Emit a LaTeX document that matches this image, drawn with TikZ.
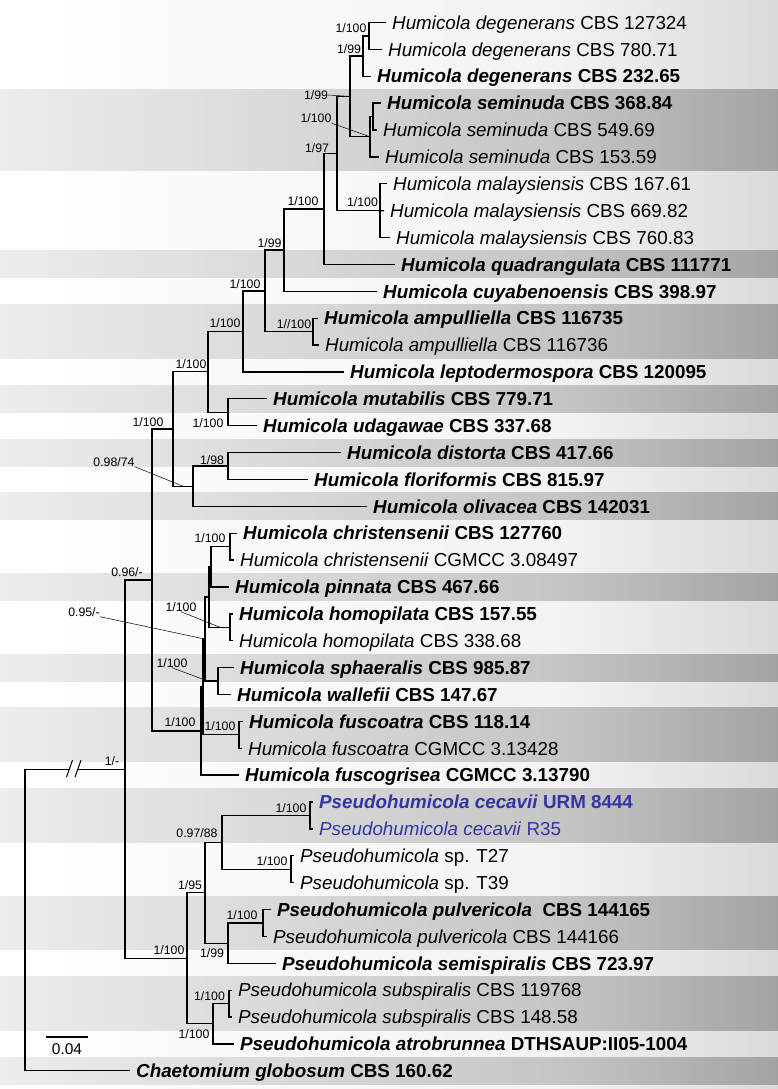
\documentclass[tikz,border=0pt]{standalone}
\usepackage{fontspec}
\setmainfont{Liberation Sans}
\definecolor{bandL}{RGB}{237,237,237}
\definecolor{bandM}{RGB}{197,197,197}
\definecolor{bandR}{RGB}{163,163,163}
\definecolor{paperL}{RGB}{255,255,255}
\definecolor{paperM}{RGB}{243,243,243}
\definecolor{paperR}{RGB}{218,218,218}
\definecolor{cecblue}{RGB}{52,52,168}
\pgfdeclarehorizontalshading{grayband}{100bp}{color(0bp)=(bandL); color(25bp)=(bandL); color(61bp)=(bandM); color(75bp)=(bandR); color(100bp)=(bandR)}
\pgfdeclarehorizontalshading{whiteband}{100bp}{color(0bp)=(paperL); color(25bp)=(paperL); color(61bp)=(paperM); color(75bp)=(paperR); color(100bp)=(paperR)}
\newcommand{\boldtax}[2]{\textbf{\textit{#1} #2}}
\newcommand{\plaintax}[2]{\textit{#1} #2}

\begin{document}
\begin{tikzpicture}[x=1pt,y=-1pt]
\tikzstyle{taxon} = [anchor=west, inner xsep=6pt, inner ysep=0pt, text height=13.4pt, text depth=0pt, font=\fontsize{18.8}{20}\selectfont]
\tikzstyle{support} = [inner sep=0pt, font=\fontsize{12.3}{13}\selectfont]
\tikzstyle{branch} = [line width=1.3pt]
\tikzstyle{leader} = [line width=0.5pt]

\useasboundingbox (0,0) rectangle (778,1089);
\shade[shading=whiteband] (0,0) rectangle (778,1089);
\foreach \a/\b in {4/6,10/10,12/13,15/15,17/17,19/19,22/22,25/25,27/28,30/31,34/35,37/38,40/40}
  \shade[shading=grayband] (0,{9.06+(\a-1)*26.88}) rectangle (778,{35.94+(\b-1)*26.88});

% taxa
\node[taxon] (t1) at (386,22.5) {\plaintax{Humicola degenerans}{CBS 127324}};
\node[taxon] (t2) at (382,49.4) {\plaintax{Humicola degenerans}{CBS 780.71}};
\node[taxon] (t3) at (371,76.3) {\boldtax{Humicola degenerans}{CBS 232.65}};
\node[taxon] (t4) at (381,103.1) {\boldtax{Humicola seminuda}{CBS 368.84}};
\node[taxon] (t5) at (377,130.0) {\plaintax{Humicola seminuda}{CBS 549.69}};
\node[taxon] (t6) at (379,156.9) {\plaintax{Humicola seminuda}{CBS 153.59}};
\node[taxon] (t7) at (387,183.8) {\plaintax{Humicola malaysiensis}{CBS 167.61}};
\node[taxon] (t8) at (384,210.7) {\plaintax{Humicola malaysiensis}{CBS 669.82}};
\node[taxon] (t9) at (390,237.5) {\plaintax{Humicola malaysiensis}{CBS 760.83}};
\node[taxon] (t10) at (395,264.4) {\boldtax{Humicola quadrangulata}{CBS 111771}};
\node[taxon] (t11) at (377,291.3) {\boldtax{Humicola cuyabenoensis}{CBS 398.97}};
\node[taxon] (t12) at (318,318.2) {\boldtax{Humicola ampulliella}{CBS 116735}};
\node[taxon] (t13) at (319,345.1) {\plaintax{Humicola ampulliella}{CBS 116736}};
\node[taxon] (t14) at (344,371.9) {\boldtax{Humicola leptodermospora}{CBS 120095}};
\node[taxon] (t15) at (267,398.8) {\boldtax{Humicola mutabilis}{CBS 779.71}};
\node[taxon] (t16) at (257,425.7) {\boldtax{Humicola udagawae}{CBS 337.68}};
\node[taxon] (t17) at (341,452.6) {\boldtax{Humicola distorta}{CBS 417.66}};
\node[taxon] (t18) at (308,479.5) {\boldtax{Humicola floriformis}{CBS 815.97}};
\node[taxon] (t19) at (367,506.3) {\boldtax{Humicola olivacea}{CBS 142031}};
\node[taxon] (t20) at (237,533.2) {\boldtax{Humicola christensenii}{CBS 127760}};
\node[taxon] (t21) at (234,560.1) {\plaintax{Humicola christensenii}{CGMCC 3.08497}};
\node[taxon] (t22) at (229,587.0) {\boldtax{Humicola pinnata}{CBS 467.66}};
\node[taxon] (t23) at (233,613.9) {\boldtax{Humicola homopilata}{CBS 157.55}};
\node[taxon] (t24) at (233,640.7) {\plaintax{Humicola homopilata}{CBS 338.68}};
\node[taxon] (t25) at (234,667.6) {\boldtax{Humicola sphaeralis}{CBS 985.87}};
\node[taxon] (t26) at (231,694.5) {\boldtax{Humicola wallefii}{CBS 147.67}};
\node[taxon] (t27) at (243,721.4) {\boldtax{Humicola fuscoatra}{CBS 118.14}};
\node[taxon] (t28) at (242,748.3) {\plaintax{Humicola fuscoatra}{CGMCC 3.13428}};
\node[taxon] (t29) at (239,775.1) {\boldtax{Humicola fuscogrisea}{CGMCC 3.13790}};
\node[taxon, text=cecblue] (t30) at (313,802.0) {\boldtax{Pseudohumicola cecavii}{URM 8444}};
\node[taxon, text=cecblue] (t31) at (313,828.9) {\plaintax{Pseudohumicola cecavii}{R35}};
\node[taxon] (t32) at (294,855.8) {\plaintax{Pseudohumicola}{sp. T27}};
\node[taxon] (t33) at (294,882.7) {\plaintax{Pseudohumicola}{sp. T39}};
\node[taxon] (t34) at (271,909.5) {\boldtax{Pseudohumicola pulvericola}{\ CBS 144165}};
\node[taxon] (t35) at (267,936.4) {\plaintax{Pseudohumicola pulvericola}{CBS 144166}};
\node[taxon] (t36) at (276,963.3) {\boldtax{Pseudohumicola semispiralis}{CBS 723.97}};
\node[taxon] (t37) at (232,990.2) {\plaintax{Pseudohumicola subspiralis}{CBS 119768}};
\node[taxon] (t38) at (232,1017.1) {\plaintax{Pseudohumicola subspiralis}{CBS 148.58}};
\node[taxon] (t39) at (234,1043.9) {\boldtax{Pseudohumicola atrobrunnea}{DTHSAUP:II05-1004}};
\node[taxon] (t40) at (130,1070.8) {\boldtax{Chaetomium globosum}{CBS 160.62}};

% internal nodes
\coordinate (nA) at (369,35.94);
\coordinate (nB) at (363,56.10);
\coordinate (nS1) at (373,116.58);
\coordinate (nS) at (370,136.74);
\coordinate (nC) at (350,96.42);
\coordinate (nMa) at (380,210.66);
\coordinate (nD) at (337,153.54);
\coordinate (nQ) at (324,208.98);
\coordinate (nB2) at (284,250.14);
\coordinate (nAm) at (313,331.62);
\coordinate (nA2) at (265,290.88);
\coordinate (nF) at (243,331.41);
\coordinate (nMu) at (228,412.26);
\coordinate (nE) at (208,371.84);
\coordinate (nDF) at (228,466.02);
\coordinate (nDFO) at (193,486.18);
\coordinate (nU) at (173,429.01);
\coordinate (nC1) at (230,546.66);
\coordinate (nC2) at (211,566.82);
\coordinate (nHo) at (230,627.30);
\coordinate (nC3) at (209,597.06);
\coordinate (nSW) at (218,681.06);
\coordinate (nC4) at (205,639.06);
\coordinate (nFu) at (239,734.82);
\coordinate (nC5) at (203,686.94);
\coordinate (nL) at (201,731.04);
\coordinate (nH) at (152,580.03);
\coordinate (nCe) at (310,815.46);
\coordinate (nSp) at (291,869.22);
\coordinate (nP2) at (222,842.34);
\coordinate (nPu) at (263,922.98);
\coordinate (nP3) at (228,943.14);
\coordinate (nP1) at (205,892.74);
\coordinate (nSs) at (229,1003.62);
\coordinate (nSa) at (213,1023.78);
\coordinate (nP) at (187,958.26);
\coordinate (nI) at (125,769.15);
\coordinate (nR) at (25,919.99);
\coordinate (brkL) at (69.5,769.15);
\coordinate (brkR) at (78,769.15);

% branches
\begin{scope}[branch]
\draw (t1.west) -| (nA) |- (t2.west);
\draw (nA) -| (nB) |- (t3.west);
\draw (t4.west) -| (nS1) |- (t5.west);
\draw (nS1) -| (nS) |- (t6.west);
\draw (nB) -| (nC) |- (nS);
\draw (t7.west) -| (nMa) |- (t9.west);
\draw (nMa) -- (t8.west);
\draw (nC) -| (nD) |- (nMa);
\draw (nD) -| (nQ) |- (t10.west);
\draw (nQ) -| (nB2) |- (t11.west);
\draw (t12.west) -| (nAm) |- (t13.west);
\draw (nB2) -| (nA2) |- (nAm);
\draw (nA2) -| (nF) |- (t14.west);
\draw (t15.west) -| (nMu) |- (t16.west);
\draw (nF) -| (nE) |- (nMu);
\draw (t17.west) -| (nDF) |- (t18.west);
\draw (nDF) -| (nDFO) |- (t19.west);
\draw (nE) -| (nU) |- (nDFO);
\draw (t20.west) -| (nC1) |- (t21.west);
\draw (nC1) -| (nC2) |- (t22.west);
\draw (t23.west) -| (nHo) |- (t24.west);
\draw (nC2) -| (nC3) |- (nHo);
\draw (t25.west) -| (nSW) |- (t26.west);
\draw (nC3) -| (nC4) |- (nSW);
\draw (t27.west) -| (nFu) |- (t28.west);
\draw (nC4) -| (nC5) |- (nFu);
\draw (nC5) -| (nL) |- (t29.west);
\draw (nU) -| (nH) |- (nL);
\draw (t30.west) -| (nCe) |- (t31.west);
\draw (t32.west) -| (nSp) |- (t33.west);
\draw (nCe) -| (nP2) |- (nSp);
\draw (t34.west) -| (nPu) |- (t35.west);
\draw (nPu) -| (nP3) |- (t36.west);
\draw (nP2) -| (nP1) |- (nP3);
\draw (t37.west) -| (nSs) |- (t38.west);
\draw (nSs) -| (nSa) |- (t39.west);
\draw (nP1) -| (nP) |- (nSa);
\draw (nH) -| (nI) |- (nP);
\draw (nI) -- (brkR);
\draw (brkL) -| (nR) |- (t40.west);
\end{scope}
\draw[line width=1pt] ([shift={(-3,8)}]brkL) -- ([shift={(3,-9)}]brkL);
\draw[line width=1pt] ([shift={(-3,8)}]brkR) -- ([shift={(3,-9)}]brkR);

% support values
\node[support] (sA) at (351,28) {1/100};
\node[support] (sB) at (349,49.5) {1/99};
\node[support] (sC) at (316,95) {1/99};
\node[support] (sS) at (316,118.5) {1/100};
\node[support] (sD) at (317,148.5) {1/97};
\node[support] (sMa) at (362.5,202) {1/100};
\node[support] (sQ) at (303,201) {1/100};
\node[support] (sB2) at (269.5,243) {1/99};
\node[support] (sA2) at (245,284.5) {1/100};
\node[support] (sAm) at (294,324.5) {1//100};
\node[support] (sF) at (225,323.5) {1/100};
\node[support] (sE) at (191,364.5) {1/100};
\node[support] (sMu) at (208,423) {1/100};
\node[support] (sU) at (148,422) {1/100};
\node[support] (sDFO) at (114,462) {0.98/74};
\node[support] (sDF) at (212,460.5) {1/98};
\node[support] (sH) at (127,572.5) {0.96/-};
\node[support] (sI) at (112,761) {1/-};
\node[support] (sC1) at (210,538) {1/100};
\node[support] (sHo) at (181,607) {1/100};
\node[support] (sC4) at (84,612) {0.95/-};
\node[support] (sSW) at (172,663) {1/100};
\node[support] (sL) at (180,722.5) {1/100};
\node[support] (sFu) at (220,726.5) {1/100};
\node[support] (sCe) at (291,808) {1/100};
\node[support] (sP2) at (197,833.5) {0.97/88};
\node[support] (sSp) at (272,861.5) {1/100};
\node[support] (sP1) at (190,885.5) {1/95};
\node[support] (sPu) at (242,915) {1/100};
\node[support] (sP) at (169,950.5) {1/100};
\node[support] (sP3) at (212,953.5) {1/99};
\node[support] (sSs) at (209.5,996.5) {1/100};
\node[support] (sSa) at (194,1034.5) {1/100};

\coordinate (hDFO) at (183,486.18);
\coordinate (hHo) at (220,627.30);
\coordinate (hSW) at (208,681.06);
\draw[leader] (sC.east) -- (nC);
\draw[leader] (sS.south east) -- (nS);
\draw[leader] (sDFO.south east) -- (hDFO);
\draw[leader] (sHo.south) -- (hHo);
\draw[leader] (sC4.south east) -- (nC4);
\draw[leader] (sSW.south) -- (hSW);

% scale bar
\coordinate (sb1) at (46,1037);
\coordinate (sb2) at (88,1037);
\draw[line width=1.2pt] (sb1) -- (sb2);
\node[inner sep=0pt, font=\fontsize{15.5}{16}\selectfont] (sbl) at (67,1049) {0.04};

\end{tikzpicture}
\end{document}
